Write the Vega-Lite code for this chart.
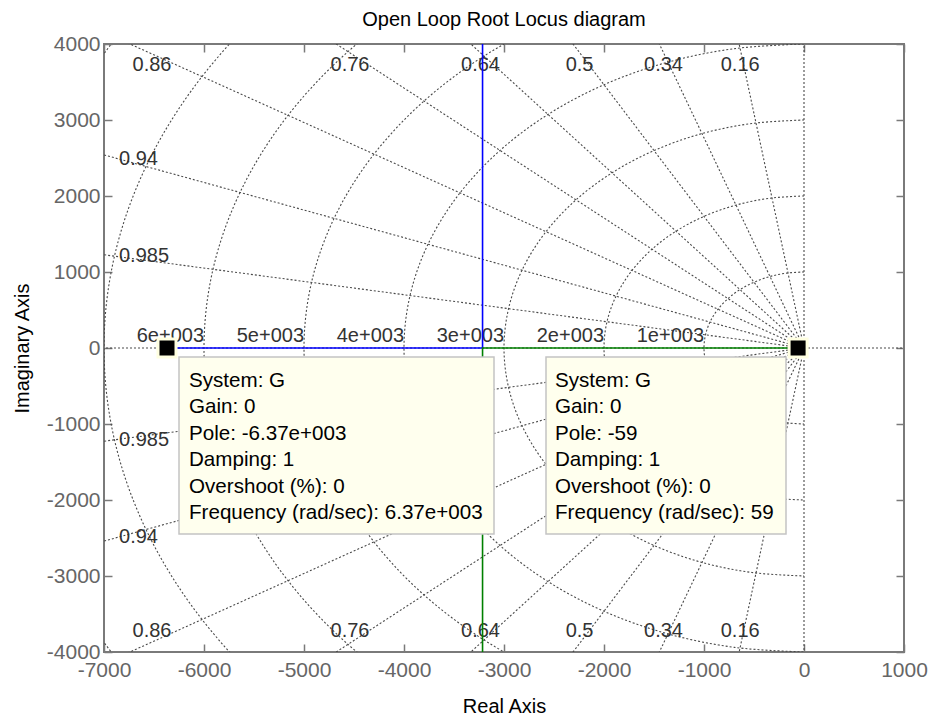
{
  "$schema": "https://vega.github.io/schema/vega-lite/v6.json",
  "width": 800,
  "height": 608,
  "autosize": {"type": "none"},
  "padding": {"left": 104, "top": 44, "right": 26, "bottom": 66},
  "background": "white",
  "title": {
    "text": "Open Loop Root Locus diagram",
    "frame": "group",
    "anchor": "middle",
    "baseline": "alphabetic",
    "offset": -13,
    "fontSize": 20,
    "fontWeight": "normal",
    "color": "#000000"
  },
  "config": {
    "font": "Liberation Sans",
    "view": {"stroke": "#7a7a7a", "strokeWidth": 2},
    "axis": {
      "domain": false,
      "grid": false,
      "tickColor": "#7a7a7a",
      "tickWidth": 1.5,
      "tickSize": -8,
      "labelColor": "#666666",
      "labelFontSize": 21,
      "labelFlush": false,
      "labelOverlap": false,
      "titleFontSize": 20,
      "titleFontWeight": "normal",
      "titleColor": "#000000"
    }
  },
  "datasets": {
    "circles": [
      {"r": 1000, "i": 0, "x": 0, "y": 1000}, {"r": 1000, "i": 1, "x": -174, "y": 985}, {"r": 1000, "i": 2, "x": -342, "y": 940}, {"r": 1000, "i": 3, "x": -500, "y": 866}, {"r": 1000, "i": 4, "x": -643, "y": 766}, {"r": 1000, "i": 5, "x": -766, "y": 643}, {"r": 1000, "i": 6, "x": -866, "y": 500}, {"r": 1000, "i": 7, "x": -940, "y": 342}, {"r": 1000, "i": 8, "x": -985, "y": 174}, {"r": 1000, "i": 9, "x": -1000, "y": 0}, {"r": 1000, "i": 10, "x": -985, "y": -174}, {"r": 1000, "i": 11, "x": -940, "y": -342}, {"r": 1000, "i": 12, "x": -866, "y": -500}, {"r": 1000, "i": 13, "x": -766, "y": -643}, {"r": 1000, "i": 14, "x": -643, "y": -766}, {"r": 1000, "i": 15, "x": -500, "y": -866}, {"r": 1000, "i": 16, "x": -342, "y": -940}, {"r": 1000, "i": 17, "x": -174, "y": -985}, {"r": 1000, "i": 18, "x": 0, "y": -1000},
      {"r": 2000, "i": 0, "x": 0, "y": 2000}, {"r": 2000, "i": 1, "x": -347, "y": 1970}, {"r": 2000, "i": 2, "x": -684, "y": 1879}, {"r": 2000, "i": 3, "x": -1000, "y": 1732}, {"r": 2000, "i": 4, "x": -1286, "y": 1532}, {"r": 2000, "i": 5, "x": -1532, "y": 1286}, {"r": 2000, "i": 6, "x": -1732, "y": 1000}, {"r": 2000, "i": 7, "x": -1879, "y": 684}, {"r": 2000, "i": 8, "x": -1970, "y": 347}, {"r": 2000, "i": 9, "x": -2000, "y": 0}, {"r": 2000, "i": 10, "x": -1970, "y": -347}, {"r": 2000, "i": 11, "x": -1879, "y": -684}, {"r": 2000, "i": 12, "x": -1732, "y": -1000}, {"r": 2000, "i": 13, "x": -1532, "y": -1286}, {"r": 2000, "i": 14, "x": -1286, "y": -1532}, {"r": 2000, "i": 15, "x": -1000, "y": -1732}, {"r": 2000, "i": 16, "x": -684, "y": -1879}, {"r": 2000, "i": 17, "x": -347, "y": -1970}, {"r": 2000, "i": 18, "x": 0, "y": -2000},
      {"r": 3000, "i": 0, "x": 0, "y": 3000}, {"r": 3000, "i": 1, "x": -521, "y": 2954}, {"r": 3000, "i": 2, "x": -1026, "y": 2819}, {"r": 3000, "i": 3, "x": -1500, "y": 2598}, {"r": 3000, "i": 4, "x": -1928, "y": 2298}, {"r": 3000, "i": 5, "x": -2298, "y": 1928}, {"r": 3000, "i": 6, "x": -2598, "y": 1500}, {"r": 3000, "i": 7, "x": -2819, "y": 1026}, {"r": 3000, "i": 8, "x": -2954, "y": 521}, {"r": 3000, "i": 9, "x": -3000, "y": 0}, {"r": 3000, "i": 10, "x": -2954, "y": -521}, {"r": 3000, "i": 11, "x": -2819, "y": -1026}, {"r": 3000, "i": 12, "x": -2598, "y": -1500}, {"r": 3000, "i": 13, "x": -2298, "y": -1928}, {"r": 3000, "i": 14, "x": -1928, "y": -2298}, {"r": 3000, "i": 15, "x": -1500, "y": -2598}, {"r": 3000, "i": 16, "x": -1026, "y": -2819}, {"r": 3000, "i": 17, "x": -521, "y": -2954}, {"r": 3000, "i": 18, "x": 0, "y": -3000},
      {"r": 4000, "i": 0, "x": 0, "y": 4000}, {"r": 4000, "i": 1, "x": -695, "y": 3939}, {"r": 4000, "i": 2, "x": -1368, "y": 3759}, {"r": 4000, "i": 3, "x": -2000, "y": 3464}, {"r": 4000, "i": 4, "x": -2571, "y": 3064}, {"r": 4000, "i": 5, "x": -3064, "y": 2571}, {"r": 4000, "i": 6, "x": -3464, "y": 2000}, {"r": 4000, "i": 7, "x": -3759, "y": 1368}, {"r": 4000, "i": 8, "x": -3939, "y": 695}, {"r": 4000, "i": 9, "x": -4000, "y": 0}, {"r": 4000, "i": 10, "x": -3939, "y": -695}, {"r": 4000, "i": 11, "x": -3759, "y": -1368}, {"r": 4000, "i": 12, "x": -3464, "y": -2000}, {"r": 4000, "i": 13, "x": -3064, "y": -2571}, {"r": 4000, "i": 14, "x": -2571, "y": -3064}, {"r": 4000, "i": 15, "x": -2000, "y": -3464}, {"r": 4000, "i": 16, "x": -1368, "y": -3759}, {"r": 4000, "i": 17, "x": -695, "y": -3939}, {"r": 4000, "i": 18, "x": 0, "y": -4000},
      {"r": 5000, "i": 0, "x": 0, "y": 5000}, {"r": 5000, "i": 1, "x": -868, "y": 4924}, {"r": 5000, "i": 2, "x": -1710, "y": 4698}, {"r": 5000, "i": 3, "x": -2500, "y": 4330}, {"r": 5000, "i": 4, "x": -3214, "y": 3830}, {"r": 5000, "i": 5, "x": -3830, "y": 3214}, {"r": 5000, "i": 6, "x": -4330, "y": 2500}, {"r": 5000, "i": 7, "x": -4698, "y": 1710}, {"r": 5000, "i": 8, "x": -4924, "y": 868}, {"r": 5000, "i": 9, "x": -5000, "y": 0}, {"r": 5000, "i": 10, "x": -4924, "y": -868}, {"r": 5000, "i": 11, "x": -4698, "y": -1710}, {"r": 5000, "i": 12, "x": -4330, "y": -2500}, {"r": 5000, "i": 13, "x": -3830, "y": -3214}, {"r": 5000, "i": 14, "x": -3214, "y": -3830}, {"r": 5000, "i": 15, "x": -2500, "y": -4330}, {"r": 5000, "i": 16, "x": -1710, "y": -4698}, {"r": 5000, "i": 17, "x": -868, "y": -4924}, {"r": 5000, "i": 18, "x": 0, "y": -5000},
      {"r": 6000, "i": 0, "x": 0, "y": 6000}, {"r": 6000, "i": 1, "x": -1042, "y": 5909}, {"r": 6000, "i": 2, "x": -2052, "y": 5638}, {"r": 6000, "i": 3, "x": -3000, "y": 5196}, {"r": 6000, "i": 4, "x": -3857, "y": 4596}, {"r": 6000, "i": 5, "x": -4596, "y": 3857}, {"r": 6000, "i": 6, "x": -5196, "y": 3000}, {"r": 6000, "i": 7, "x": -5638, "y": 2052}, {"r": 6000, "i": 8, "x": -5909, "y": 1042}, {"r": 6000, "i": 9, "x": -6000, "y": 0}, {"r": 6000, "i": 10, "x": -5909, "y": -1042}, {"r": 6000, "i": 11, "x": -5638, "y": -2052}, {"r": 6000, "i": 12, "x": -5196, "y": -3000}, {"r": 6000, "i": 13, "x": -4596, "y": -3857}, {"r": 6000, "i": 14, "x": -3857, "y": -4596}, {"r": 6000, "i": 15, "x": -3000, "y": -5196}, {"r": 6000, "i": 16, "x": -2052, "y": -5638}, {"r": 6000, "i": 17, "x": -1042, "y": -5909}, {"r": 6000, "i": 18, "x": 0, "y": -6000},
      {"r": 7000, "i": 0, "x": 0, "y": 7000}, {"r": 7000, "i": 1, "x": -1216, "y": 6894}, {"r": 7000, "i": 2, "x": -2394, "y": 6578}, {"r": 7000, "i": 3, "x": -3500, "y": 6062}, {"r": 7000, "i": 4, "x": -4500, "y": 5362}, {"r": 7000, "i": 5, "x": -5362, "y": 4500}, {"r": 7000, "i": 6, "x": -6062, "y": 3500}, {"r": 7000, "i": 7, "x": -6578, "y": 2394}, {"r": 7000, "i": 8, "x": -6894, "y": 1216}, {"r": 7000, "i": 9, "x": -7000, "y": 0}, {"r": 7000, "i": 10, "x": -6894, "y": -1216}, {"r": 7000, "i": 11, "x": -6578, "y": -2394}, {"r": 7000, "i": 12, "x": -6062, "y": -3500}, {"r": 7000, "i": 13, "x": -5362, "y": -4500}, {"r": 7000, "i": 14, "x": -4500, "y": -5362}, {"r": 7000, "i": 15, "x": -3500, "y": -6062}, {"r": 7000, "i": 16, "x": -2394, "y": -6578}, {"r": 7000, "i": 17, "x": -1216, "y": -6894}, {"r": 7000, "i": 18, "x": 0, "y": -7000},
      {"r": 8000, "i": 0, "x": 0, "y": 8000}, {"r": 8000, "i": 1, "x": -1389, "y": 7878}, {"r": 8000, "i": 2, "x": -2736, "y": 7518}, {"r": 8000, "i": 3, "x": -4000, "y": 6928}, {"r": 8000, "i": 4, "x": -5142, "y": 6128}, {"r": 8000, "i": 5, "x": -6128, "y": 5142}, {"r": 8000, "i": 6, "x": -6928, "y": 4000}, {"r": 8000, "i": 7, "x": -7518, "y": 2736}, {"r": 8000, "i": 8, "x": -7878, "y": 1389}, {"r": 8000, "i": 9, "x": -8000, "y": 0}, {"r": 8000, "i": 10, "x": -7878, "y": -1389}, {"r": 8000, "i": 11, "x": -7518, "y": -2736}, {"r": 8000, "i": 12, "x": -6928, "y": -4000}, {"r": 8000, "i": 13, "x": -6128, "y": -5142}, {"r": 8000, "i": 14, "x": -5142, "y": -6128}, {"r": 8000, "i": 15, "x": -4000, "y": -6928}, {"r": 8000, "i": 16, "x": -2736, "y": -7518}, {"r": 8000, "i": 17, "x": -1389, "y": -7878}, {"r": 8000, "i": 18, "x": 0, "y": -8000}
    ],
    "rays": [
      {"zeta": 0.16, "x": 0, "y": 0, "x2": -1600, "y2": 9871}, {"zeta": 0.16, "x": 0, "y": 0, "x2": -1600, "y2": -9871},
      {"zeta": 0.34, "x": 0, "y": 0, "x2": -3400, "y2": 9404}, {"zeta": 0.34, "x": 0, "y": 0, "x2": -3400, "y2": -9404},
      {"zeta": 0.5, "x": 0, "y": 0, "x2": -5000, "y2": 8660}, {"zeta": 0.5, "x": 0, "y": 0, "x2": -5000, "y2": -8660},
      {"zeta": 0.64, "x": 0, "y": 0, "x2": -6400, "y2": 7684}, {"zeta": 0.64, "x": 0, "y": 0, "x2": -6400, "y2": -7684},
      {"zeta": 0.76, "x": 0, "y": 0, "x2": -7600, "y2": 6499}, {"zeta": 0.76, "x": 0, "y": 0, "x2": -7600, "y2": -6499},
      {"zeta": 0.86, "x": 0, "y": 0, "x2": -8600, "y2": 5103}, {"zeta": 0.86, "x": 0, "y": 0, "x2": -8600, "y2": -5103},
      {"zeta": 0.94, "x": 0, "y": 0, "x2": -9400, "y2": 3412}, {"zeta": 0.94, "x": 0, "y": 0, "x2": -9400, "y2": -3412},
      {"zeta": 0.985, "x": 0, "y": 0, "x2": -9850, "y2": 1726}, {"zeta": 0.985, "x": 0, "y": 0, "x2": -9850, "y2": -1726},
      {"zeta": 1, "x": 0, "y": 0, "x2": -10000, "y2": 0}, {"zeta": 1, "x": 0, "y": 0, "x2": 1000, "y2": 0},
      {"zeta": 0, "x": 0, "y": 0, "x2": 0, "y2": 10000}, {"zeta": 0, "x": 0, "y": 0, "x2": 0, "y2": -10000}
    ],
    "zetaLabels": [
      {"t": "0.86", "x": -6520, "y": 3722}, {"t": "0.76", "x": -4540, "y": 3722}, {"t": "0.64", "x": -3235, "y": 3722},
      {"t": "0.5", "x": -2244, "y": 3722}, {"t": "0.34", "x": -1405, "y": 3722}, {"t": "0.16", "x": -638, "y": 3722},
      {"t": "0.94", "x": -6655, "y": 2490}, {"t": "0.985", "x": -6600, "y": 1205},
      {"t": "0.86", "x": -6520, "y": -3722}, {"t": "0.76", "x": -4540, "y": -3722}, {"t": "0.64", "x": -3235, "y": -3722},
      {"t": "0.5", "x": -2244, "y": -3722}, {"t": "0.34", "x": -1405, "y": -3722}, {"t": "0.16", "x": -638, "y": -3722},
      {"t": "0.94", "x": -6655, "y": -2490}, {"t": "0.985", "x": -6600, "y": -1205}
    ],
    "wnLabels": [
      {"t": "6e+003", "x": -6000}, {"t": "5e+003", "x": -5000}, {"t": "4e+003", "x": -4000},
      {"t": "3e+003", "x": -3000}, {"t": "2e+003", "x": -2000}, {"t": "1e+003", "x": -1000}
    ],
    "locus": [
      {"branch": "1", "k": 0, "x": -6370, "y": 0}, {"branch": "1", "k": 1, "x": -3214.5, "y": 0}, {"branch": "1", "k": 2, "x": -3214.5, "y": 4000},
      {"branch": "2", "k": 0, "x": -59, "y": 0}, {"branch": "2", "k": 1, "x": -3214.5, "y": 0}, {"branch": "2", "k": 2, "x": -3214.5, "y": -4000}
    ],
    "poles": [{"x": -6370, "y": 0}, {"x": -59, "y": 0}]
  },
  "layer": [
    {
      "data": {"name": "circles"},
      "mark": {"type": "line", "interpolate": "cardinal", "clip": true, "color": "#4a4a4a", "strokeWidth": 1.1, "strokeDash": [2, 2]},
      "encoding": {
        "x": {"field": "x", "type": "quantitative", "scale": {"domain": [-7000, 1000], "nice": false, "zero": false},
          "axis": {"values": [-7000, -6000, -5000, -4000, -3000, -2000, -1000, 0, 1000], "labelExpr": "'' + datum.value", "labelPadding": 15, "title": "Real Axis", "titlePadding": 16}},
        "y": {"field": "y", "type": "quantitative", "scale": {"domain": [-4000, 4000], "nice": false, "zero": false},
          "axis": {"values": [-4000, -3000, -2000, -1000, 0, 1000, 2000, 3000, 4000], "labelExpr": "'' + datum.value", "labelPadding": 12, "title": "Imaginary Axis", "titlePadding": 14}},
        "detail": {"field": "r"},
        "order": {"field": "i", "type": "quantitative"}
      }
    },
    {
      "data": {"name": "rays"},
      "mark": {"type": "rule", "clip": true, "color": "#4a4a4a", "strokeWidth": 1.1, "strokeDash": [2, 2]},
      "encoding": {
        "x": {"field": "x", "type": "quantitative", "scale": {"domain": [-7000, 1000], "nice": false, "zero": false}, "axis": null},
        "y": {"field": "y", "type": "quantitative", "scale": {"domain": [-4000, 4000], "nice": false, "zero": false}, "axis": null},
        "x2": {"field": "x2"},
        "y2": {"field": "y2"}
      }
    },
    {
      "data": {"name": "zetaLabels"},
      "mark": {"type": "text", "fontSize": 20, "color": "#333333", "align": "center", "baseline": "middle"},
      "encoding": {
        "x": {"field": "x", "type": "quantitative", "scale": {"domain": [-7000, 1000], "nice": false, "zero": false}, "axis": null},
        "y": {"field": "y", "type": "quantitative", "scale": {"domain": [-4000, 4000], "nice": false, "zero": false}, "axis": null},
        "text": {"field": "t"}
      }
    },
    {
      "data": {"name": "wnLabels"},
      "mark": {"type": "text", "fontSize": 20, "color": "#333333", "align": "right", "baseline": "alphabetic", "dy": -6},
      "encoding": {
        "x": {"field": "x", "type": "quantitative", "scale": {"domain": [-7000, 1000], "nice": false, "zero": false}, "axis": null},
        "y": {"datum": 0, "type": "quantitative", "scale": {"domain": [-4000, 4000], "nice": false, "zero": false}, "axis": null},
        "text": {"field": "t"}
      }
    },
    {
      "data": {"name": "locus"},
      "mark": {"type": "line", "clip": true, "strokeWidth": 1.6},
      "encoding": {
        "x": {"field": "x", "type": "quantitative", "scale": {"domain": [-7000, 1000], "nice": false, "zero": false},
          "axis": {"orient": "top", "values": [-7000, -6000, -5000, -4000, -3000, -2000, -1000, 0, 1000], "labels": false, "title": null}},
        "y": {"field": "y", "type": "quantitative", "scale": {"domain": [-4000, 4000], "nice": false, "zero": false},
          "axis": {"orient": "right", "values": [-4000, -3000, -2000, -1000, 0, 1000, 2000, 3000, 4000], "labels": false, "title": null}},
        "color": {"field": "branch", "type": "nominal", "scale": {"domain": ["1", "2"], "range": ["#0000ff", "#008000"]}, "legend": null},
        "order": {"field": "k", "type": "quantitative"}
      }
    },
    {
      "data": {"values": [{"tip": "pole -6.37e+003"}]},
      "mark": {"type": "rect", "fill": "#ffffee", "stroke": "#c4c4c4", "strokeWidth": 1.5},
      "encoding": {
        "x": {"datum": -6250, "type": "quantitative", "scale": {"domain": [-7000, 1000], "nice": false, "zero": false}, "axis": null},
        "x2": {"datum": -3100},
        "y": {"datum": -118, "type": "quantitative", "scale": {"domain": [-4000, 4000], "nice": false, "zero": false}, "axis": null},
        "y2": {"datum": -2447}
      }
    },
    {
      "data": {"values": [{"tip": "pole -59"}]},
      "mark": {"type": "rect", "fill": "#ffffee", "stroke": "#c4c4c4", "strokeWidth": 1.5},
      "encoding": {
        "x": {"datum": -2580, "type": "quantitative", "scale": {"domain": [-7000, 1000], "nice": false, "zero": false}, "axis": null},
        "x2": {"datum": -180},
        "y": {"datum": -118, "type": "quantitative", "scale": {"domain": [-4000, 4000], "nice": false, "zero": false}, "axis": null},
        "y2": {"datum": -2447}
      }
    },
    {
      "data": {"values": [{"lines": ["System: G", "Gain: 0", "Pole: -6.37e+003", "Damping: 1", "Overshoot (%): 0", "Frequency (rad/sec): 6.37e+003"]}]},
      "mark": {"type": "text", "fontSize": 20.6, "color": "#000000", "align": "left", "baseline": "alphabetic", "lineHeight": 26.5},
      "encoding": {
        "x": {"datum": -6150, "type": "quantitative", "scale": {"domain": [-7000, 1000], "nice": false, "zero": false}, "axis": null},
        "y": {"datum": -513, "type": "quantitative", "scale": {"domain": [-4000, 4000], "nice": false, "zero": false}, "axis": null},
        "text": {"field": "lines"}
      }
    },
    {
      "data": {"values": [{"lines": ["System: G", "Gain: 0", "Pole: -59", "Damping: 1", "Overshoot (%): 0", "Frequency (rad/sec): 59"]}]},
      "mark": {"type": "text", "fontSize": 20.6, "color": "#000000", "align": "left", "baseline": "alphabetic", "lineHeight": 26.5},
      "encoding": {
        "x": {"datum": -2490, "type": "quantitative", "scale": {"domain": [-7000, 1000], "nice": false, "zero": false}, "axis": null},
        "y": {"datum": -513, "type": "quantitative", "scale": {"domain": [-4000, 4000], "nice": false, "zero": false}, "axis": null},
        "text": {"field": "lines"}
      }
    },
    {
      "data": {"name": "poles"},
      "mark": {"type": "point", "shape": "square", "filled": true, "color": "#000000", "stroke": "#ffffe1", "strokeWidth": 3, "size": 324, "opacity": 1},
      "encoding": {
        "x": {"field": "x", "type": "quantitative", "scale": {"domain": [-7000, 1000], "nice": false, "zero": false}, "axis": null},
        "y": {"field": "y", "type": "quantitative", "scale": {"domain": [-4000, 4000], "nice": false, "zero": false}, "axis": null}
      }
    }
  ],
  "resolve": {"axis": {"x": "independent", "y": "independent"}}
}
